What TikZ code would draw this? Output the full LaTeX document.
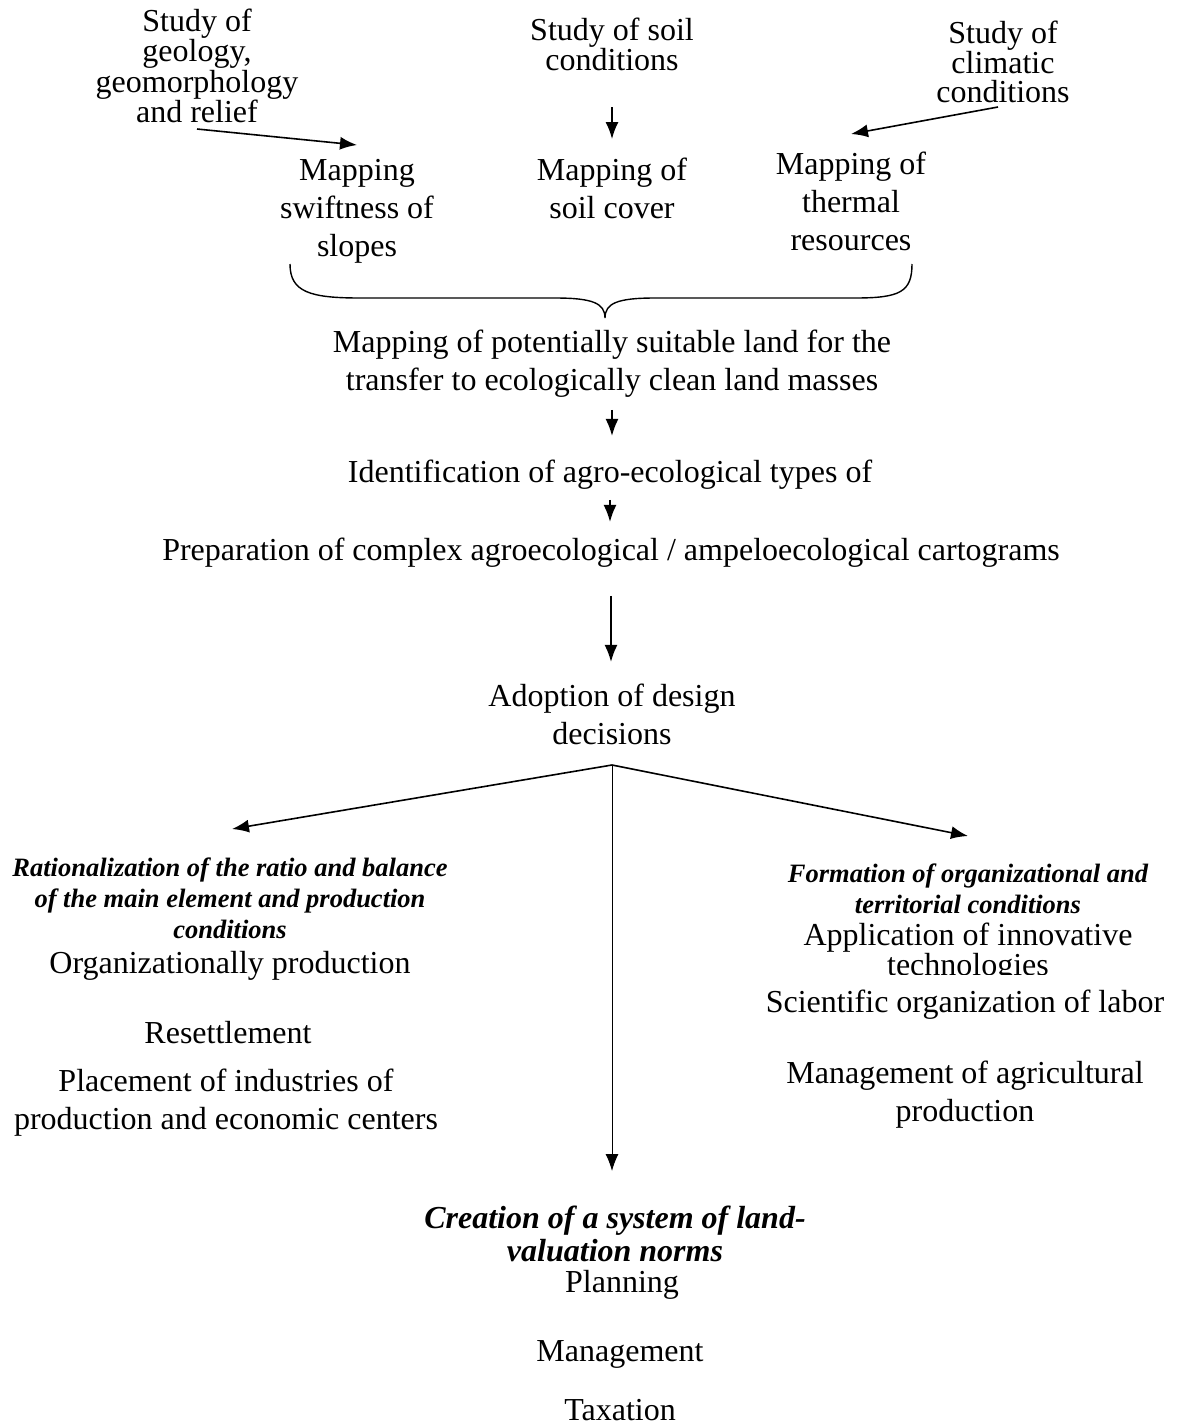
\documentclass[tikz,border=0pt]{standalone}
\usepackage{fontspec}
\setmainfont{Liberation Serif}
\usetikzlibrary{arrows.meta}

\begin{document}
\begin{tikzpicture}[x=1pt,y=-1pt,
    txt/.style={align=center,inner sep=0pt,font=\fontsize{32}{38}\selectfont},
    tight/.style={align=center,inner sep=0pt,font=\fontsize{32}{29}\selectfont},
    head/.style={align=center,inner sep=0pt,font=\fontsize{26.5}{31}\selectfont\bfseries\itshape},
    bighead/.style={align=center,inner sep=0pt,font=\fontsize{32}{33}\selectfont\bfseries\itshape},
    arr/.style={line width=1.6pt,-{Latex[length=17pt,width=13pt]}}]

   \useasboundingbox (0,0) rectangle (1177,1428);

   %estudios
   \node[tight] (geo) at (197,66) {Study of\\geology,\\geomorphology\\and relief};
   \node[tight] (soil) at (612,44) {Study of soil\\conditions};
   \node[tight] (clim) at (1003,62) {Study of\\climatic\\conditions};

   %mapas
   \node[txt] (slopes) at (357,211) {Mapping\\swiftness of\\slopes};
   \node[txt] (soilcov) at (612,188) {Mapping of\\soil cover};
   \node[txt] (thermal) at (851,201) {Mapping of\\thermal\\resources};

   %flechas de arriba
   \coordinate (geoend) at (197,129);
   \coordinate (geotip) at (357,145);
   \coordinate (soilend) at (612,107);
   \coordinate (soiltip) at (612,139);
   \coordinate (climend) at (998,107);
   \coordinate (climtip) at (851,134);
   \draw[arr] (geoend) -- (geotip);
   \draw[arr] (soilend) -- (soiltip);
   \draw[arr] (climend) -- (climtip);

   %llave
   \coordinate (brl) at (290,264);
   \coordinate (brr) at (912,264);
   \coordinate (brtip) at (605,318);
   \draw[line width=1.4pt] (brl) .. controls (290,292) and (310,298) .. (360,298)
      -- (555,298) .. controls (592,298) and (605,303) .. (brtip)
      .. controls (605,303) and (618,298) .. (655,298)
      -- (855,298) .. controls (900,298) and (912,292) .. (brr);

   %cadena central
   \node[txt] (suit) at (612,364) {Mapping of potentially suitable land for the\\transfer to ecologically clean land masses};
   \node[txt] (ident) at (610,475) {Identification of agro-ecological types of};
   \node[txt] (prep) at (611,553) {Preparation of complex agroecological / ampeloecological cartograms};
   \node[txt] (adopt) at (612,714) {Adoption of design\\decisions};

   \draw[arr] (suit.south) ++(0,12) coordinate (s1) (s1) -- ++(0,26) coordinate (s2);
   \draw[arr] (ident.south) ++(0,10) coordinate (i1) (i1) -- ++(0,22) coordinate (i2);
   \draw[arr] (prep.south) ++(0,28) coordinate (p1) (p1) -- ++(0,66) coordinate (p2);

   %ramas
   \coordinate (split) at (612,765);
   \coordinate (lefttip) at (232,829);
   \coordinate (righttip) at (968,836);
   \coordinate (downtip) at (612,1171);
   \draw[arr] (split) -- (lefttip);
   \draw[arr] (split) -- (righttip);
   \draw[line width=1pt,-{Latex[length=17pt,width=13pt]}] (split) -- (downtip);

   %izquierda
   \node[head] (rat) at (230,898) {Rationalization of the ratio and balance\\of the main element and production\\conditions};
   \node[txt] (orgprod) at (230,966) {Organizationally production};
   \node[txt] (resettle) at (228,1033) {Resettlement};
   \node[txt] (place) at (226,1103) {Placement of industries of\\production and economic centers};

   %derecha
   \node[head] (form) at (968,889) {Formation of organizational and\\territorial conditions};
   \begin{scope}
      \clip (740,900) rectangle (1177,974);
      \node[tight] (innov) at (968,953) {Application of innovative\\technologies};
   \end{scope}
   \node[txt] (sci) at (965,1005) {Scientific organization of labor};
   \node[txt] (agri) at (965,1095) {Management of agricultural\\production};

   %abajo
   \node[bighead] (creat) at (615,1234) {Creation of a system of land-\\valuation norms};
   \node[txt] (plan) at (622,1285) {Planning};
   \node[txt] (manage) at (620,1354) {Management};
   \node[txt] (tax) at (620,1410) {Taxation};
\end{tikzpicture}
\end{document}
